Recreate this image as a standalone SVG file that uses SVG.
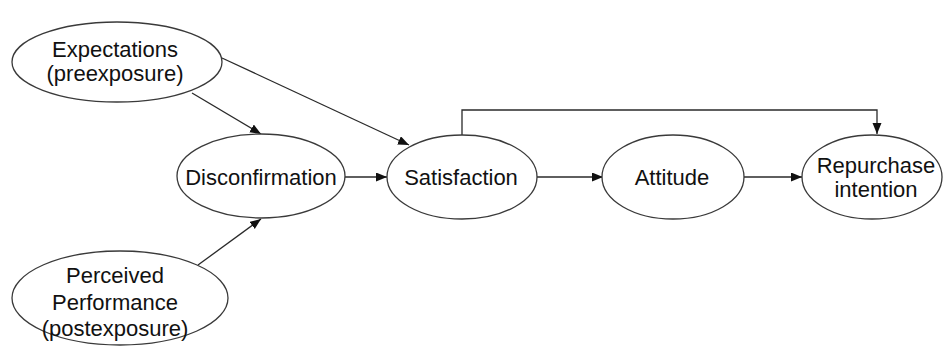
<svg xmlns="http://www.w3.org/2000/svg" width="943" height="347" viewBox="0 0 943 347">
<defs>
<style>
.node ellipse{fill:#fff;stroke:#3a3a3a;stroke-width:1.3}
.node text{font-family:"Liberation Sans",Arial,sans-serif;font-size:22px;fill:#111;text-anchor:middle}
.edges path{fill:none;stroke:#2a2a2a;stroke-width:1.3;marker-end:url(#arrow)}
</style>
<marker id="arrow" markerUnits="userSpaceOnUse" markerWidth="12" markerHeight="10" refX="11" refY="4.5" orient="auto">
<path d="M0,0 L11,4.5 L0,9 Z" fill="#111"/>
</marker>
</defs>
<rect width="943" height="347" fill="#fff"/>
<g class="edges">
<path d="M192,93 L261,134"/>
<path d="M198,265 L261,219"/>
<path d="M222,58 L409,145"/>
<path d="M345,177 L387,177"/>
<path d="M537,177 L603,177"/>
<path d="M744,177 L802,177"/>
<path d="M462,135 L462,110 L877,110 L877,134"/>
</g>
<g id="expectations" class="node">
<ellipse cx="117" cy="62" rx="105" ry="40"/>
<text x="115" y="57">Expectations</text>
<text x="115" y="81">(preexposure)</text>
</g>
<g id="disconfirmation" class="node">
<ellipse cx="261" cy="176" rx="84" ry="42"/>
<text x="261" y="185">Disconfirmation</text>
</g>
<g id="perceived" class="node">
<ellipse cx="120" cy="298" rx="108" ry="47"/>
<text x="115" y="283">Perceived</text>
<text x="115" y="310">Performance</text>
<text x="115" y="336">(postexposure)</text>
</g>
<g id="satisfaction" class="node">
<ellipse cx="462" cy="177" rx="75" ry="42"/>
<text x="461" y="185">Satisfaction</text>
</g>
<g id="attitude" class="node">
<ellipse cx="673" cy="177" rx="71" ry="42"/>
<text x="672" y="185">Attitude</text>
</g>
<g id="repurchase" class="node">
<ellipse cx="872" cy="177" rx="70" ry="42"/>
<text x="876" y="173">Repurchase</text>
<text x="876" y="197">intention</text>
</g>
</svg>
